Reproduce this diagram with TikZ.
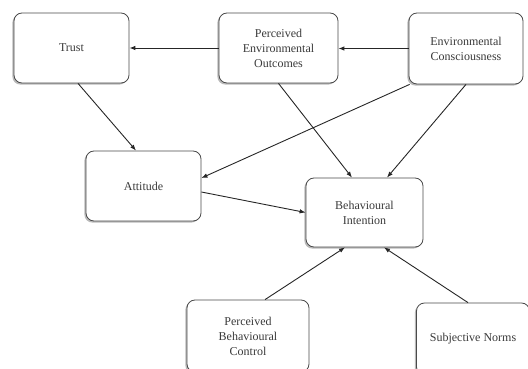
\documentclass[tikz,border=0pt]{standalone}
\usepackage{fontspec}
\setmainfont{Liberation Serif}
\usetikzlibrary{arrows.meta,shadows}
\definecolor{txt}{HTML}{3A3A3A}
\definecolor{edge}{HTML}{4A4A4A}
\tikzset{
  box/.style={draw=edge, line width=0.8pt, rounded corners=8pt, fill=white,
    minimum width=#1, align=center, text=txt,
    font=\fontsize{12}{15}\selectfont,
    drop shadow={shadow xshift=-1.6pt, shadow yshift=-1.6pt, fill=black!45, opacity=0.6}},
  arr/.style={draw=black!85, line width=0.9pt, -{Latex[length=6pt,width=4.5pt]}}
}
\begin{document}
\begin{tikzpicture}[x=1pt,y=-1pt]
\useasboundingbox (0,0) rectangle (528,369);
\clip (0,0) rectangle (528,369);
\node[box=115pt, minimum height=70pt] (trust) at (71.5,48) {Trust};
\node[box=119pt, minimum height=70pt] (peo) at (278.5,48) {Perceived\\Environmental\\Outcomes};
\node[box=114pt, minimum height=71pt] (ec) at (466,48.5) {Environmental\\Consciousness};
\node[box=115pt, minimum height=70pt] (att) at (143.5,186) {Attitude};
\node[box=117pt, minimum height=69pt] (bi) at (364.5,212.5) {Behavioural\\Intention};
\node[box=122pt, minimum height=72pt] (pbc) at (248,336) {Perceived\\Behavioural\\Control};
\node[box=113pt, minimum height=72pt] (sn) at (473,339) {Subjective Norms};

\draw[arr] (peo.west) -- (peo.west -| trust.east);
\draw[arr] (ec.west) -- (ec.west -| peo.east);
\draw[arr] ([xshift=6.5pt]trust.south) -- ([xshift=-7.5pt]att.north);
\draw[arr] ([xshift=1pt]ec.south west) -- ([yshift=8pt]att.east);
\draw[arr] (peo.south) -- ([xshift=-12.5pt]bi.north);
\draw[arr] (ec.south) -- ([xshift=22.5pt]bi.north);
\draw[arr] ([yshift=-6pt]att.east) -- (bi.west);
\draw[arr] ([xshift=17pt]pbc.north) -- ([xshift=-19.5pt]bi.south);
\draw[arr] ([xshift=-5pt]sn.north) -- ([xshift=19.5pt]bi.south);
\end{tikzpicture}
\end{document}
